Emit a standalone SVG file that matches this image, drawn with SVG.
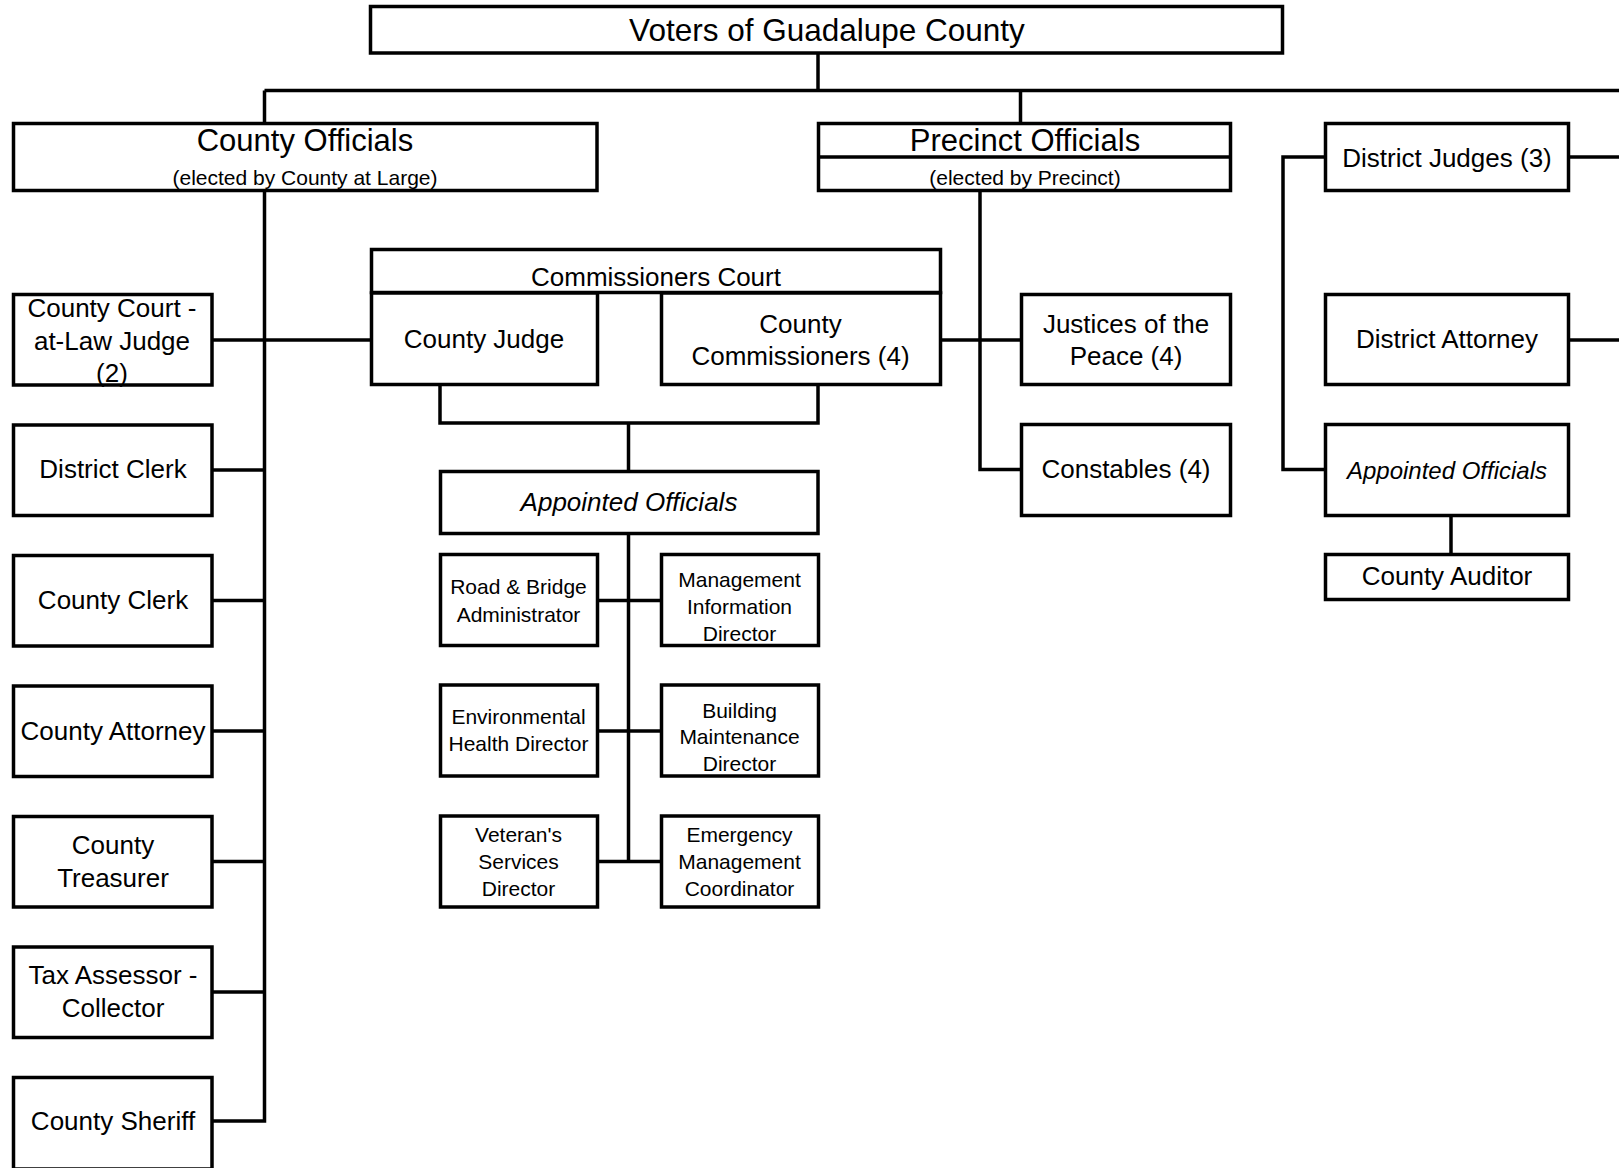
<svg xmlns="http://www.w3.org/2000/svg" width="1619" height="1168" viewBox="0 0 1619 1168">
<style>
.box{fill:#fff;stroke:#000;stroke-width:3.5}
.ln{fill:none;stroke:#000;stroke-width:3.5}
text{font-family:"Liberation Sans",Arial,Helvetica,sans-serif;fill:#000;text-anchor:middle}
.xl{font-size:31.5px}
.lg{font-size:31px}
.md{font-size:26px}
.sm{font-size:21px}
.it{font-style:italic}
</style>
<rect width="1619" height="1168" fill="#fff"/>
<g id="connectors">
<path class="ln" d="M818,53 V90.5"/>
<path class="ln" d="M264.5,90.5 H1619"/>
<path class="ln" d="M264.5,90.5 V123.5"/>
<path class="ln" d="M1020.5,90.5 V123.5"/>
<path class="ln" d="M264.5,190.5 V1121 H211.5"/>
<path class="ln" d="M211.5,340 H371"/>
<path class="ln" d="M211.5,470 H264.5"/>
<path class="ln" d="M211.5,600.5 H264.5"/>
<path class="ln" d="M211.5,731 H264.5"/>
<path class="ln" d="M211.5,861.5 H264.5"/>
<path class="ln" d="M211.5,992 H264.5"/>
<path class="ln" d="M980,190.5 V469.5 H1020"/>
<path class="ln" d="M940,340 H1020"/>
<path class="ln" d="M1325,157 H1283 V469.5 H1325"/>
<path class="ln" d="M1569,157 H1619"/>
<path class="ln" d="M1569,340 H1619"/>
<path class="ln" d="M1451,517 V553"/>
<path class="ln" d="M440,386 V423 H818 V386"/>
<path class="ln" d="M628.5,423 V470"/>
<path class="ln" d="M628.5,535 V861.5"/>
<path class="ln" d="M598,600.5 H660"/>
<path class="ln" d="M598,731 H660"/>
<path class="ln" d="M598,861.5 H660"/>
</g>
<g id="voters">
<rect class="box" x="370.5" y="6.5" width="912" height="46.5"/>
<text class="xl" x="827" y="41">Voters of Guadalupe County</text>
</g>
<g id="county-officials">
<rect class="box" x="13.5" y="123.5" width="583.5" height="67"/>
<text class="lg" x="305" y="150.5">County Officials</text>
<text class="sm" x="305" y="184.5">(elected by County at Large)</text>
</g>
<g id="precinct-officials">
<rect class="box" x="818.5" y="123.5" width="412" height="67"/>
<path class="ln" d="M818.5,157 H1230.5"/>
<text class="lg" x="1025" y="150.5">Precinct Officials</text>
<text class="sm" x="1025" y="184.5">(elected by Precinct)</text>
</g>
<g id="district-judges">
<rect class="box" x="1325.5" y="123.5" width="243" height="67"/>
<text class="md" x="1447" y="166.5">District Judges (3)</text>
</g>
<g id="commissioners-court">
<rect class="box" x="371.5" y="249.5" width="569" height="43"/>
<text class="md" x="656" y="286">Commissioners Court</text>
</g>
<g id="county-judge">
<rect class="box" x="371.5" y="293" width="226" height="91.5"/>
<text class="md" x="484" y="348">County Judge</text>
</g>
<g id="county-commissioners">
<rect class="box" x="661.5" y="293" width="279" height="91.5"/>
<text class="md" x="800.5" y="332.5">County</text>
<text class="md" x="800.5" y="364.5">Commissioners (4)</text>
</g>
<g id="justices">
<rect class="box" x="1021.5" y="294.5" width="209" height="90"/>
<text class="md" x="1126" y="332.5">Justices of the</text>
<text class="md" x="1126" y="364.5">Peace (4)</text>
</g>
<g id="constables">
<rect class="box" x="1021.5" y="424.5" width="209" height="91"/>
<text class="md" x="1126" y="478">Constables (4)</text>
</g>
<g id="district-attorney">
<rect class="box" x="1325.5" y="294.5" width="243" height="90"/>
<text class="md" x="1447" y="348">District Attorney</text>
</g>
<g id="district-appointed-officials">
<rect class="box" x="1325.5" y="424.5" width="243" height="91"/>
<text class="md it" x="1447" y="478.5" style="font-size:24px">Appointed Officials</text>
</g>
<g id="county-auditor">
<rect class="box" x="1325.5" y="554.5" width="243" height="45"/>
<text class="md" x="1447" y="585">County Auditor</text>
</g>
<g id="county-court-at-law">
<rect class="box" x="13.5" y="294.5" width="198.5" height="90.5"/>
<text class="md" x="112" y="316.5">County Court -</text>
<text class="md" x="112" y="349.5">at-Law Judge</text>
<text class="md" x="112" y="381.5">(2)</text>
</g>
<g id="district-clerk">
<rect class="box" x="13.5" y="425" width="198.5" height="90.5"/>
<text class="md" x="113" y="478">District Clerk</text>
</g>
<g id="county-clerk">
<rect class="box" x="13.5" y="555.5" width="198.5" height="90.5"/>
<text class="md" x="113" y="609">County Clerk</text>
</g>
<g id="county-attorney">
<rect class="box" x="13.5" y="686" width="198.5" height="90.5"/>
<text class="md" x="113" y="739.5">County Attorney</text>
</g>
<g id="county-treasurer">
<rect class="box" x="13.5" y="816.5" width="198.5" height="90.5"/>
<text class="md" x="113" y="854">County</text>
<text class="md" x="113" y="887">Treasurer</text>
</g>
<g id="tax-assessor">
<rect class="box" x="13.5" y="947" width="198.5" height="90.5"/>
<text class="md" x="113" y="984">Tax Assessor -</text>
<text class="md" x="113" y="1017">Collector</text>
</g>
<g id="county-sheriff">
<rect class="box" x="13.5" y="1077.5" width="198.5" height="91.5"/>
<text class="md" x="113" y="1130">County Sheriff</text>
</g>
<g id="appointed-officials">
<rect class="box" x="440.5" y="471.5" width="377.5" height="62"/>
<text class="md it" x="629" y="511">Appointed Officials</text>
</g>
<g id="road-bridge">
<rect class="box" x="440.5" y="554.5" width="157" height="91"/>
<text class="sm" x="518.5" y="594">Road &amp; Bridge</text>
<text class="sm" x="518.5" y="621.5">Administrator</text>
</g>
<g id="mis-director">
<rect class="box" x="661.5" y="554.5" width="157" height="91"/>
<text class="sm" x="739.5" y="586.5">Management</text>
<text class="sm" x="739.5" y="613.5">Information</text>
<text class="sm" x="739.5" y="640.5">Director</text>
</g>
<g id="env-health">
<rect class="box" x="440.5" y="685" width="157" height="91"/>
<text class="sm" x="518.5" y="724">Environmental</text>
<text class="sm" x="518.5" y="751">Health Director</text>
</g>
<g id="building-maintenance">
<rect class="box" x="661.5" y="685" width="157" height="91"/>
<text class="sm" x="739.5" y="717.5">Building</text>
<text class="sm" x="739.5" y="744">Maintenance</text>
<text class="sm" x="739.5" y="771">Director</text>
</g>
<g id="veterans-services">
<rect class="box" x="440.5" y="816" width="157" height="91"/>
<text class="sm" x="518.5" y="841.5">Veteran's</text>
<text class="sm" x="518.5" y="868.5">Services</text>
<text class="sm" x="518.5" y="895.5">Director</text>
</g>
<g id="emergency-management">
<rect class="box" x="661.5" y="816" width="157" height="91"/>
<text class="sm" x="739.5" y="841.5">Emergency</text>
<text class="sm" x="739.5" y="868.5">Management</text>
<text class="sm" x="739.5" y="895.5">Coordinator</text>
</g>
</svg>
